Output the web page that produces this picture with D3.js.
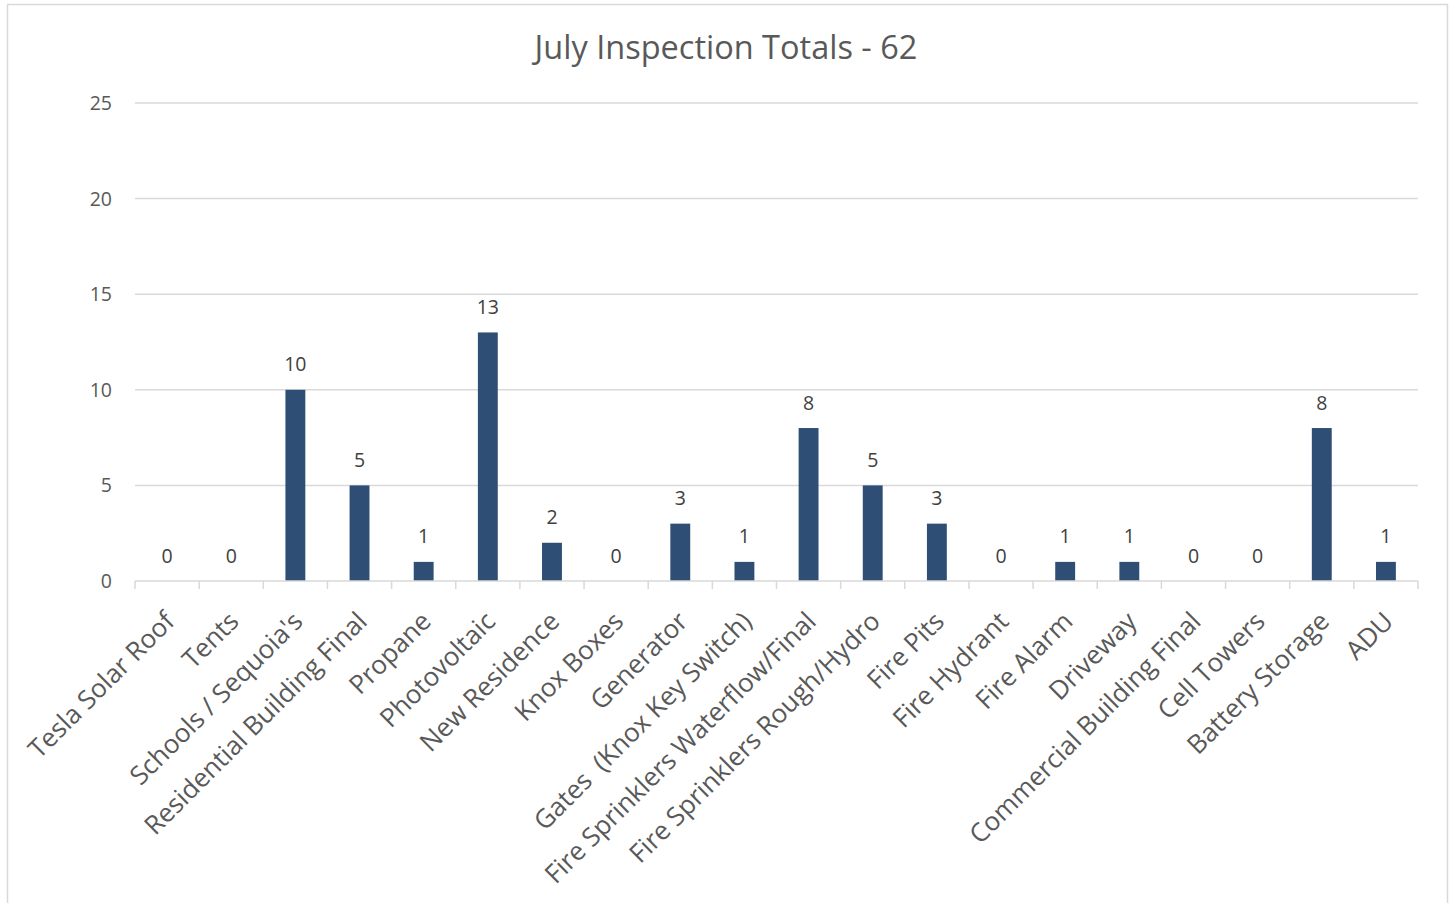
<!DOCTYPE html>
<html><head><meta charset="utf-8">
<script src="https://cdn.jsdelivr.net/npm/d3@7"></script>
<style>body{margin:0;background:#fff;} svg{display:block;} text{white-space:pre;}</style>
</head><body>
<script>
const categories = ["Tesla Solar Roof","Tents","Schools / Sequoia's","Residential Building Final","Propane","Photovoltaic","New Residence","Knox Boxes","Generator","Gates  (Knox Key Switch)","Fire Sprinklers Waterflow/Final","Fire Sprinklers Rough/Hydro","Fire Pits","Fire Hydrant","Fire Alarm","Driveway","Commercial Building Final","Cell Towers","Battery Storage","ADU"];
const values = [0,0,10,5,1,13,2,0,3,1,8,5,3,0,1,1,0,0,8,1];
const yTicks = [0,5,10,15,20,25];
const title = "July Inspection Totals - 62";

(function(){
const W = 1453, H = 903;
const font = "'Open Sans', sans-serif";
const svg = d3.select("body").append("svg").attr("width", W).attr("height", H);
svg.append("rect").attr("x",7.5).attr("y",4.5).attr("width",1440).attr("height",H+10)
  .attr("fill","#fff").attr("stroke","#d9d9d9").attr("stroke-width",1.5);

const pl = 135, pr = 1418, pt = 103, pb = 581;
const x = d3.scaleBand().domain(categories).range([pl, pr]).paddingInner(0.69).paddingOuter(0.345);
const xb = d3.scaleBand().domain(categories).range([pl, pr]);
const y = d3.scaleLinear().domain([0,25]).range([pb, pt]);

svg.append("text").attr("x", 726).attr("y", 59).attr("text-anchor","middle")
  .attr("font-family", font).attr("font-size", 32.5).attr("fill","#595959").text(title);

svg.append("g").selectAll("line").data(yTicks.filter(d=>d>0)).join("line")
  .attr("x1", pl).attr("x2", pr).attr("y1", d=>y(d)).attr("y2", d=>y(d))
  .attr("stroke","#d9d9d9").attr("stroke-width",1.5);

svg.append("g").selectAll("text").data(yTicks).join("text")
  .attr("x", 112).attr("y", d=>y(d)+7).attr("text-anchor","end")
  .attr("font-family", font).attr("font-size", 19.5).attr("fill","#595959").text(d=>d);

svg.append("g").selectAll("rect").data(categories).join("rect")
  .attr("x", d=>x(d)).attr("width", x.bandwidth())
  .attr("y", (d,i)=>y(values[i])).attr("height", (d,i)=>y(0)-y(values[i]))
  .attr("fill","#2e4e76");

svg.append("line").attr("x1",pl).attr("x2",pr).attr("y1",pb).attr("y2",pb)
  .attr("stroke","#d9d9d9").attr("stroke-width",1.5);
const bounds = categories.map(c=>xb(c)).concat([pr]);
svg.append("g").selectAll("line").data(bounds).join("line")
  .attr("x1",d=>d).attr("x2",d=>d).attr("y1",pb).attr("y2",pb+8)
  .attr("stroke","#d9d9d9").attr("stroke-width",1.5);

svg.append("g").selectAll("text").data(categories).join("text")
  .attr("x", d=>x(d)+x.bandwidth()/2).attr("y",(d,i)=>y(values[i])-18.5)
  .attr("text-anchor","middle").attr("font-family",font).attr("font-size",19.5).attr("fill","#404040")
  .text((d,i)=>values[i]);

svg.append("g").selectAll("text").data(categories).join("text")
  .attr("transform", d=>`translate(${xb(d)+xb.bandwidth()/2+9},${pb+42}) rotate(-45)`)
  .attr("text-anchor","end").attr("font-family",font).attr("font-size",26).attr("fill","#595959")
  .text(d=>d);
})();
</script>
</body></html>
